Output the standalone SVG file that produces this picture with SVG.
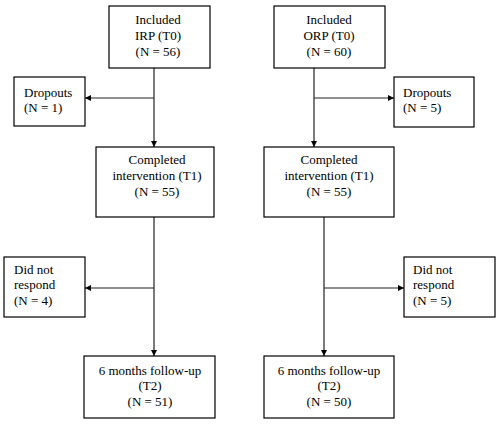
<svg xmlns="http://www.w3.org/2000/svg" width="500" height="425" viewBox="0 0 500 425">
<defs>
<marker id="ah" viewBox="0 0 10 10" refX="10" refY="5" markerWidth="6" markerHeight="6" markerUnits="userSpaceOnUse" orient="auto">
<path d="M0,0 L10,5 L0,10 z" fill="#000"/>
</marker>
<style>
rect{fill:#fff;stroke:#000;stroke-width:1.2}
text{font-family:"Liberation Serif","Times New Roman",serif;font-size:13px;fill:#000}
.c{text-anchor:middle}
.l{stroke:#222;stroke-width:1.2;fill:none}
</style>
</defs>
<rect x="0" y="0" width="500" height="425" style="stroke:none;fill:#fff"/>
<g id="connectors">
<line class="l" x1="154" y1="68" x2="154" y2="147" marker-end="url(#ah)"/>
<line class="l" x1="154" y1="98" x2="85" y2="98" marker-end="url(#ah)"/>
<line class="l" x1="314" y1="68" x2="314" y2="147" marker-end="url(#ah)"/>
<line class="l" x1="314" y1="98" x2="394" y2="98" marker-end="url(#ah)"/>
<line class="l" x1="154" y1="217" x2="154" y2="356" marker-end="url(#ah)"/>
<line class="l" x1="154" y1="288" x2="85" y2="288" marker-end="url(#ah)"/>
<line class="l" x1="324" y1="217" x2="324" y2="356" marker-end="url(#ah)"/>
<line class="l" x1="324" y1="288" x2="404" y2="288" marker-end="url(#ah)"/>
</g>
<g id="irp-t0">
<rect x="109" y="6" width="101" height="62"/>
<text class="c" x="158" y="24">Included</text>
<text class="c" x="158" y="40">IRP (T0)</text>
<text class="c" x="158" y="56">(N = 56)</text>
</g>
<g id="orp-t0">
<rect x="274" y="6" width="111" height="62"/>
<text class="c" x="329" y="24">Included</text>
<text class="c" x="329" y="40">ORP (T0)</text>
<text class="c" x="329" y="56">(N = 60)</text>
</g>
<g id="irp-dropouts">
<rect x="14" y="77" width="71" height="49"/>
<text x="24" y="97">Dropouts</text>
<text x="24" y="112">(N = 1)</text>
</g>
<g id="orp-dropouts">
<rect x="394" y="77" width="80" height="50"/>
<text x="403" y="97">Dropouts</text>
<text x="403" y="112">(N = 5)</text>
</g>
<g id="irp-t1">
<rect x="96" y="147" width="118" height="70"/>
<text class="c" x="157" y="164">Completed</text>
<text class="c" x="157" y="180">intervention (T1)</text>
<text class="c" x="157" y="196">(N = 55)</text>
</g>
<g id="orp-t1">
<rect x="264" y="147" width="130" height="70"/>
<text class="c" x="329" y="164">Completed</text>
<text class="c" x="329" y="180">intervention (T1)</text>
<text class="c" x="329" y="196">(N = 55)</text>
</g>
<g id="irp-nr">
<rect x="4" y="257" width="81" height="60"/>
<text x="14" y="274">Did not</text>
<text x="14" y="289">respond</text>
<text x="14" y="305">(N = 4)</text>
</g>
<g id="orp-nr">
<rect x="404" y="257" width="91" height="60"/>
<text x="413" y="274">Did not</text>
<text x="413" y="289">respond</text>
<text x="413" y="305">(N = 5)</text>
</g>
<g id="irp-t2">
<rect x="84" y="356" width="131" height="62"/>
<text class="c" x="150" y="375">6 months follow-up</text>
<text class="c" x="150" y="390">(T2)</text>
<text class="c" x="150" y="406">(N = 51)</text>
</g>
<g id="orp-t2">
<rect x="264" y="356" width="130" height="62"/>
<text class="c" x="329" y="375">6 months follow-up</text>
<text class="c" x="329" y="390">(T2)</text>
<text class="c" x="329" y="406">(N = 50)</text>
</g>
</svg>
